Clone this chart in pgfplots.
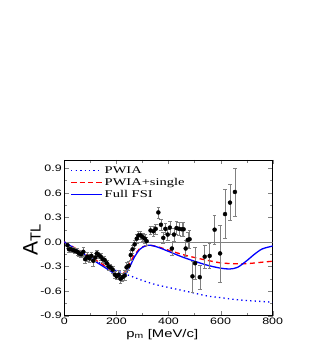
\documentclass[border=0pt]{standalone}
\usepackage{fontspec}
\setmainfont{Liberation Sans}
\newfontfamily\widesans[FakeStretch=1.33]{Liberation Sans}
\newfontfamily\wideserif[FakeStretch=1.4]{Liberation Serif}
\usepackage{pgfplots}
\pgfplotsset{compat=1.18}
\begin{document}
\begin{tikzpicture}
\path[use as bounding box] (-64.3bp,-44.3bp) rectangle (246.7bp,315.7bp);
\begin{axis}[
  at={(0,0)}, anchor=south west,
  scale only axis, width=208.4bp, height=155.7bp,
  xmin=0, xmax=800, ymin=-0.9, ymax=1.0,
  xtick={0,200,400,600,800},
  ytick={-0.9,-0.6,-0.3,0,0.3,0.6,0.9},
  minor x tick num=1, minor y tick num=1,
  tick align=inside,
  yticklabel style={/pgf/number format/fixed,/pgf/number format/fixed zerofill,/pgf/number format/precision=1, xshift=1bp},
  /pgf/number format/assume math mode=true,
  tick label style={font=\widesans\fontsize{9.4}{11}\selectfont},
  xticklabel style={yshift=1.5bp},
  xlabel={p\textsubscript{m} [MeV/c]},
  xlabel style={font=\widesans\fontsize{11.2}{13}\selectfont, at={(axis description cs:0.47,-0.12)}, anchor=center},
  ylabel={A\textsubscript{TL}},
  ylabel style={font=\fontsize{21}{24}\selectfont, at={(axis description cs:-0.155,0.49)}, anchor=center},
  axis line style={black, line width=0.5pt},
  legend style={draw=none, fill=none, at={(axis description cs:0.014,0.985)}, anchor=north west,
     font=\wideserif\fontsize{10.4}{12}\selectfont, row sep=-0.8pt},
  legend cell align=left,
  legend image code/.code={\draw[#1] plot coordinates {(0bp,0bp) (31bp,0bp)};},
]
\addplot[gray, line width=0.5pt, forget plot] coordinates {(0,0) (800,0)};
\addplot[blue, line width=1.3pt, dash pattern=on 1.3pt off 3.2pt, smooth] coordinates {
(0,0) (50,-0.095) (100,-0.19) (150,-0.28) (200,-0.35) (250,-0.41) (300,-0.47) (350,-0.52)
(400,-0.555) (450,-0.59) (500,-0.625) (550,-0.66) (600,-0.68) (650,-0.70) (700,-0.715) (750,-0.725) (800,-0.735)};
\addlegendentry{PWIA}
\addplot[red, line width=1.3pt, dash pattern=on 5pt off 3.5pt, smooth] coordinates {
(0,0) (50,-0.09) (100,-0.18) (150,-0.28) (190,-0.37) (210,-0.40) (225,-0.39) (245,-0.30) (265,-0.18)
(290,-0.08) (310,-0.05) (330,-0.04) (360,-0.06) (400,-0.10) (450,-0.15) (500,-0.19) (550,-0.225)
(600,-0.255) (650,-0.265) (700,-0.265) (750,-0.25) (800,-0.235)};
\addlegendentry{PWIA+single}
\addplot[blue, line width=1.3pt, smooth] coordinates {
(0,0) (50,-0.1) (100,-0.2) (150,-0.3) (195,-0.39) (215,-0.42) (232,-0.40) (250,-0.31) (270,-0.18)
(290,-0.09) (310,-0.05) (330,-0.04) (360,-0.065) (400,-0.115) (450,-0.18) (500,-0.235) (550,-0.285)
(600,-0.32) (635,-0.33) (665,-0.31) (700,-0.23) (730,-0.15) (760,-0.085) (800,-0.05)};
\addlegendentry{Full FSI}
\addplot[only marks, mark=*, mark size=2pt, black,
  error bars/.cd, y dir=both, y explicit, error bar style={gray, line width=0.5pt},
  error mark options={gray, rotate=90, mark size=1.8pt}] table[x=x, y=y, y error=e] {
x y e
12 -0.04 0.04
18 -0.09 0.04
25 -0.09 0.03
34 -0.10 0.03
42 -0.11 0.03
50 -0.12 0.04
57 -0.14 0.04
65 -0.15 0.04
73 -0.12 0.05
80 -0.21 0.05
88 -0.18 0.05
96 -0.20 0.05
104 -0.17 0.05
111 -0.23 0.06
119 -0.19 0.05
125 -0.14 0.04
132 -0.16 0.04
140 -0.18 0.04
147 -0.21 0.04
155 -0.22 0.04
163 -0.26 0.04
170 -0.30 0.04
178 -0.31 0.04
186 -0.34 0.04
194 -0.40 0.04
201 -0.42 0.04
209 -0.40 0.05
216 -0.45 0.05
224 -0.43 0.05
232 -0.41 0.06
239 -0.31 0.06
247 -0.29 0.06
255 -0.16 0.06
262 -0.09 0.05
270 -0.03 0.05
278 0.04 0.05
285 0.08 0.05
293 0.08 0.05
301 0.06 0.05
309 0.04 0.05
316 0.01 0.05
331 0.14 0.05
342 0.13 0.06
351 0.16 0.06
361 0.36 0.07
371 0.21 0.07
380 0.05 0.07
388 0.16 0.07
397 0.09 0.07
405 0.175 0.08
413 -0.08 0.08
421 0.09 0.08
431 0.17 0.08
440 0.16 0.08
451 0.155 0.08
458 0.155 0.09
466 -0.08 0.10
474 0.025 0.10
481 0.033 0.11
492 -0.42 0.19
502 -0.26 0.20
520 -0.43 0.15
539 -0.18 0.14
558 -0.17 0.15
577 0.15 0.18
598 -0.14 0.35
617 0.34 0.30
636 0.48 0.22
655 0.61 0.29
};
\end{axis}
\end{tikzpicture}
\end{document}
